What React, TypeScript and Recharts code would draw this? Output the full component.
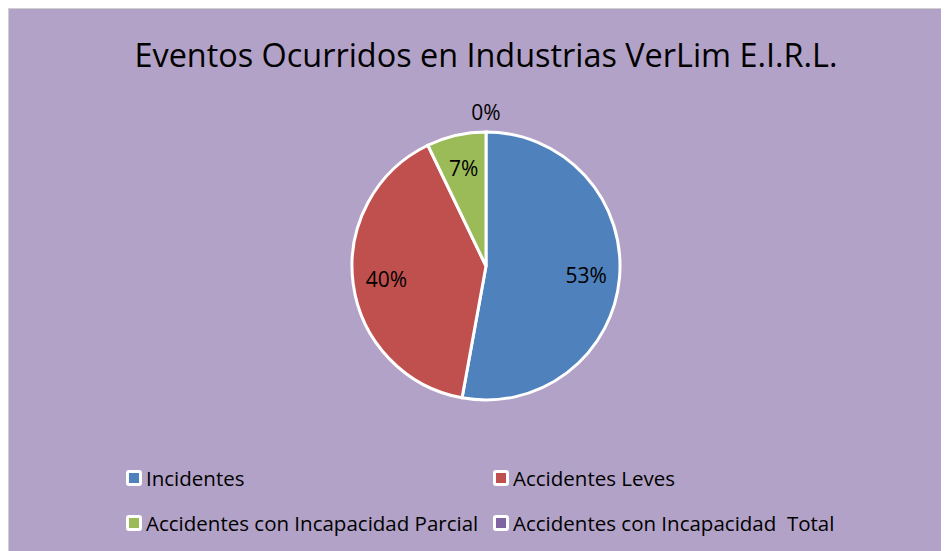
import { Cell, Legend, Pie, PieChart } from 'recharts';

const categories = [
  'Incidentes',
  'Accidentes Leves',
  'Accidentes con Incapacidad Parcial',
  'Accidentes con Incapacidad  Total',
];
const counts = [37, 28, 5, 0];
const colors = ['#4F81BD', '#C0504D', '#9BBB59', '#8064A2'];

const data = categories.map((name, i) => ({ name, value: counts[i] }));
const total = counts.reduce((a, b) => a + b, 0);

const RAD = Math.PI / 180;
const font = "'Open Sans', 'Noto Sans', sans-serif";

function renderLabel(props: any) {
  const { cx, cy, midAngle, outerRadius, value } = props;
  const r = value > 0 ? outerRadius * 0.75 : outerRadius + 20;
  const x = cx + r * Math.cos(-midAngle * RAD);
  const y = cy + r * Math.sin(-midAngle * RAD);
  return (
    <text
      x={x}
      y={y}
      fill="#000"
      fontFamily={font}
      fontSize={21}
      textAnchor="middle"
      dominantBaseline="central"
    >
      {`${Math.round((value / total) * 100)}%`}
    </text>
  );
}

// legend keeps the original category order
function renderLegend() {
  return (
    <div
      style={{
        display: 'grid',
        gridTemplateColumns: '367px 380px',
        rowGap: 21,
        fontFamily: font,
        fontSize: 20.5,
        color: '#000',
      }}
    >
      {categories.map((name, i) => (
        <div key={name} style={{ display: 'flex', alignItems: 'center', height: 24 }}>
          <span
            style={{
              width: 10,
              height: 10,
              border: '3px solid #fff',
              borderRadius: 3,
              background: colors[i],
              marginRight: 4,
              flexShrink: 0,
            }}
          />
          <span style={{ whiteSpace: 'pre' }}>{name}</span>
        </div>
      ))}
    </div>
  );
}

export default function App() {
  return (
    <div
      style={{
        position: 'relative',
        width: 949,
        height: 551,
        borderLeft: '1px solid #d0d0d0',
        borderTop: '1px solid #d0d0d0',
        background: '#B3A2C7',
      }}
    >
      <div
        style={{
          position: 'absolute',
          left: 0,
          top: 23,
          width: 954,
          textAlign: 'center',
          fontFamily: font,
          fontSize: 32.4,
          color: '#000',
        }}
      >
        Eventos Ocurridos en Industrias VerLim E.I.R.L.
      </div>
      <PieChart
        width={949}
        height={551}
        margin={{ top: 0, right: 0, bottom: 0, left: 0 }}
        style={{ position: 'absolute', left: 0, top: 0 }}
      >
        <Pie
          data={data}
          dataKey="value"
          nameKey="name"
          cx={477}
          cy={257}
          outerRadius={134}
          startAngle={90}
          endAngle={-270}
          stroke="#fff"
          strokeWidth={3}
          label={renderLabel}
          labelLine={false}
          isAnimationActive={false}
        >
          {data.map((d, i) => (
            <Cell key={d.name} fill={colors[i]} />
          ))}
        </Pie>
        <Legend
          content={renderLegend}
          wrapperStyle={{ position: 'absolute', left: 117, top: 457, width: 760 }}
        />
      </PieChart>
    </div>
  );
}
